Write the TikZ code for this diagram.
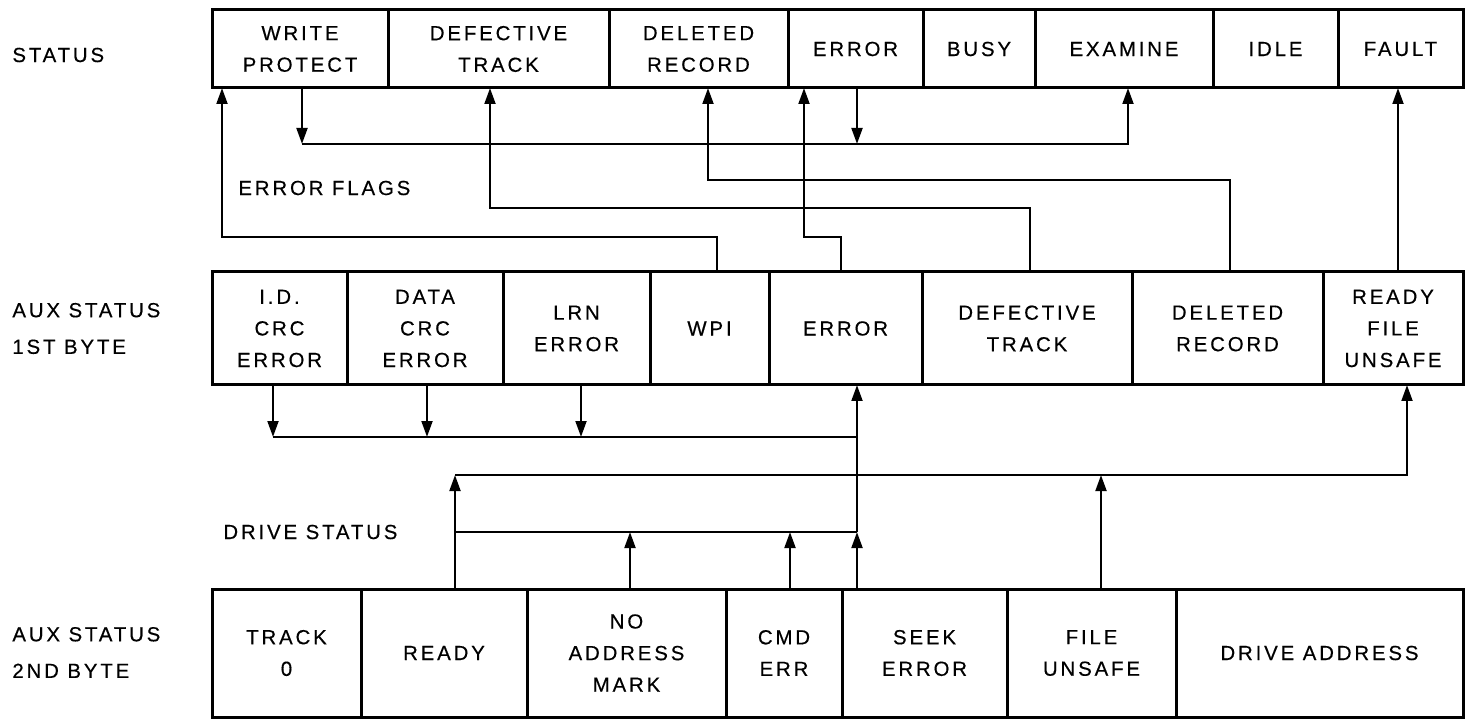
\documentclass[tikz,border=0pt]{standalone}
\usepackage{fontspec}
\setmainfont{Liberation Sans}[LetterSpace=14,FakeBold=0.4]
\usetikzlibrary{arrows.meta}
\begin{document}
\begin{tikzpicture}[x=0.5pt,y=-0.5pt,
  cell/.style={draw, line width=1.5pt, inner sep=0pt, outer sep=0pt, align=center,
    font=\fontsize{10.2}{15.8}\selectfont},
  srow/.style={cell, minimum height=39pt},
  arow/.style={cell, minimum height=56.5pt},
  brow/.style={cell, minimum height=64pt},
  lbl/.style={inner sep=0pt, anchor=west, align=left, font=\fontsize{10.2}{15.8}\selectfont},
  conn/.style={line width=1.25pt},
  arr/.style={conn, -{Triangle[length=8pt,width=5.4pt]}}]
\useasboundingbox (0,0) rectangle (1466,721);

% helper coordinates
\foreach \x in {222,273,302,427,455,490,581,630,708,717,790,804,841,857,1030,1101,1128,1230,1398,1407}
  \coordinate (X\x) at (\x,0);
\foreach \y in {144,180,208,237,437,475,532}
  \coordinate (Y\y) at (0,\y);

% labels
\node[lbl] (lstatus) at (12,55) {STATUS};
\node[lbl] (lerr) at (238,188) {ERROR FLAGS};
\node[lbl] (laux1) at (12,328.5) {AUX STATUS\\[2.5pt]1ST BYTE};
\node[lbl] (ldrive) at (223,532) {DRIVE STATUS};
\node[lbl] (laux2) at (12,652.5) {AUX STATUS\\[2.5pt]2ND BYTE};

% status row
\node[srow, minimum width=88pt]   (swp)    at (300,49)    {WRITE\\PROTECT};
\node[srow, minimum width=110.5pt] (sdt)   at (498.5,49)  {DEFECTIVE\\TRACK};
\node[srow, minimum width=89.5pt] (sdr)    at (698.5,49)  {DELETED\\RECORD};
\node[srow, minimum width=67.5pt] (ser)    at (855.5,49)  {ERROR};
\node[srow, minimum width=56pt]   (sbusy)  at (979,49)    {BUSY};
\node[srow, minimum width=89pt]   (sexam)  at (1124,49)   {EXAMINE};
\node[srow, minimum width=62.5pt] (sidle)  at (1275.5,49) {IDLE};
\node[srow, minimum width=62.5pt] (sfault) at (1400.5,49) {FAULT};

% aux status 1st byte
\node[arow, minimum width=67.5pt] (aid)   at (279.5,328.5)  {I.D.\\CRC\\ERROR};
\node[arow, minimum width=78pt]   (adata) at (425,328.5)    {DATA\\CRC\\ERROR};
\node[arow, minimum width=73.5pt] (alrn)  at (576.5,328.5)  {LRN\\ERROR};
\node[arow, minimum width=59.5pt] (awpi)  at (709.5,328.5)  {WPI};
\node[arow, minimum width=76.5pt] (aerr)  at (845.5,328.5)  {ERROR};
\node[arow, minimum width=105pt]  (adef)  at (1027,328.5)   {DEFECTIVE\\TRACK};
\node[arow, minimum width=95.5pt] (adel)  at (1227.5,328.5) {DELETED\\RECORD};
\node[arow, minimum width=70pt]   (arfu)  at (1393,328.5)   {READY\\FILE\\UNSAFE};

% aux status 2nd byte
\node[brow, minimum width=74.5pt] (btrk)   at (286.5,653)  {TRACK\\0};
\node[brow, minimum width=83pt]   (bready) at (444,653)    {READY};
\node[brow, minimum width=99.5pt] (bnam)   at (626.5,653)  {NO\\ADDRESS\\MARK};
\node[brow, minimum width=58pt]   (bcmd)   at (784,653)    {CMD\\ERR};
\node[brow, minimum width=82.5pt] (bseek)  at (924.5,653)  {SEEK\\ERROR};
\node[brow, minimum width=84.5pt] (bfu)    at (1091.5,653) {FILE\\UNSAFE};
\node[brow, minimum width=143.5pt] (bda)   at (1319.5,653) {DRIVE ADDRESS};

% status row internal bus
\draw[arr] (swp.south -| X302) -- (X302 |- Y144);
\draw[arr] (ser.south -| X857) -- (X857 |- Y144);
\draw[arr] (X302 |- Y144) -| (sexam.south -| X1128);

% error flags
\draw[arr] (awpi.north -| X717) |- (X222 |- Y237) -- (swp.south -| X222);
\draw[arr] (adef.north -| X1030) |- (X490 |- Y208) -- (sdt.south -| X490);
\draw[arr] (adel.north -| X1230) |- (X708 |- Y180) -- (sdr.south -| X708);
\draw[arr] (aerr.north -| X841) |- (X804 |- Y237) -- (ser.south -| X804);
\draw[arr] (arfu.north -| X1398) -- (sfault.south -| X1398);

% aux 1st byte internal bus
\draw[arr] (aid.south -| X273) -- (X273 |- Y437);
\draw[arr] (adata.south -| X427) -- (X427 |- Y437);
\draw[arr] (alrn.south -| X581) -- (X581 |- Y437);
\draw[conn] (X273 |- Y437) -- (X857 |- Y437);

% drive status
\draw[arr] (bseek.north -| X857) -- (X857 |- Y532);
\draw[arr] (X857 |- Y532) -- (aerr.south -| X857);
\draw[conn] (X455 |- Y532) -- (X857 |- Y532);
\draw[arr] (bnam.north -| X630) -- (X630 |- Y532);
\draw[arr] (bcmd.north -| X790) -- (X790 |- Y532);
\draw[arr] (bready.north -| X455) -- (X455 |- Y475);
\draw[arr] (X455 |- Y475) -| (arfu.south -| X1407);
\draw[arr] (bfu.north -| X1101) -- (X1101 |- Y475);
\end{tikzpicture}
\end{document}
